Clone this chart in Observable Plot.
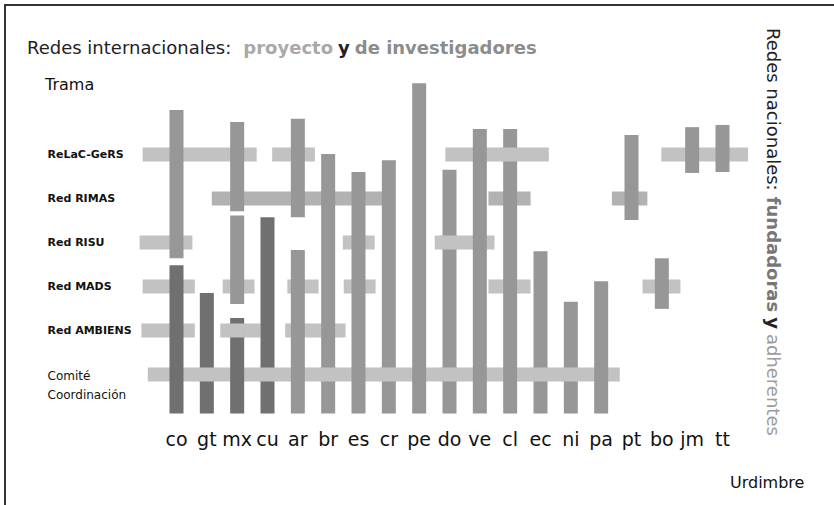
<!DOCTYPE html>
<html><head><meta charset="utf-8">
<script src="https://cdn.jsdelivr.net/npm/d3@7"></script>
<script src="https://cdn.jsdelivr.net/npm/@observablehq/plot@0.6"></script>
<style>html,body{margin:0;padding:0;background:#fff}</style>
</head><body><div id="chart"></div>
<script>
// Warp (urdimbre): countries, in order
const countries = ["co","gt","mx","cu","ar","br","es","cr","pe","do","ve","cl","ec","ni","pa","pt","bo","jm","tt"];

// Weft (trama): networks, bottom to top
const networks = ["Comité Coordinación","Red AMBIENS","Red MADS","Red RISU","Red RIMAS","ReLaC-GeRS"];
const networkLevel = [1, 2, 3, 4, 5, 6];
const networkKind = ["proyecto","proyecto","proyecto","proyecto","investigadores","proyecto"];
const networkLabel = ["Comité\nCoordinación","Red AMBIENS","Red MADS","Red RISU","Red RIMAS","ReLaC-GeRS"];

// Weft segments (in column units)
const weftNet  = ["ReLaC-GeRS","ReLaC-GeRS","ReLaC-GeRS","ReLaC-GeRS",
                  "Red RIMAS","Red RIMAS","Red RIMAS",
                  "Red RISU","Red RISU","Red RISU",
                  "Red MADS","Red MADS","Red MADS","Red MADS","Red MADS","Red MADS",
                  "Red AMBIENS","Red AMBIENS","Red AMBIENS",
                  "Comité Coordinación"];
const weftFrom = [-1.1, 3.17, 8.88, 16.0,  1.18, 10.3, 14.37,  -1.2, 5.5, 8.53,  -1.1, 1.54, 3.67, 5.53, 10.3, 15.38,  -1.14, 1.46, 3.6,  -0.93];
const weftTo   = [2.66, 4.58, 12.29, 18.86, 6.8, 11.69, 15.54,  0.54, 6.55, 10.5,  0.62, 2.59, 4.70, 6.58, 11.69, 16.63,  0.62, 2.79, 5.59,  14.63];

// Warp segments (in row units)
const warpCountry = ["co","co","gt","mx","mx","mx","cu","ar","ar","br","es","cr","pe","do","ve","cl","ec","ni","pa","pt","bo","jm","tt"];
const warpTop     = [7.0, 3.47, 2.84, 6.73, 4.60, 2.27, 4.56, 6.8, 3.82, 6.0, 5.59, 5.86, 7.61, 5.64, 6.57, 6.57, 3.79, 2.64, 3.11, 6.43, 3.63, 6.61, 6.66];
const warpBottom  = [3.63, 0.1, 0.1, 4.70, 2.59, 0.1, 0.1, 4.56, 0.1, 0.1, 0.1, 0.1, 0.1, 0.1, 0.1, 0.1, 0.1, 0.1, 0.1, 4.5, 2.48, 5.57, 5.59];
const warpKind    = ["adherente","fundadora","fundadora","adherente","adherente","fundadora","fundadora",
                     "adherente","adherente","adherente","adherente","adherente","adherente","adherente",
                     "adherente","adherente","adherente","adherente","adherente","adherente","adherente","adherente","adherente"];

// Crossings where the weft passes over the warp
const overNet     = ["Comité Coordinación","Comité Coordinación","Comité Coordinación","Comité Coordinación","Comité Coordinación","Comité Coordinación","Comité Coordinación","Red AMBIENS","ReLaC-GeRS","Red RISU"];
const overCountry = ["gt","cu","br","cr","do","ec","ni","mx","cl","do"];

// Texts
const titleParts = ["Redes internacionales:", "proyecto", "y", "de investigadores"];
const sideParts = ["Redes nacionales:", "fundadoras", "y", "adherentes"];
const weftTitle = "Trama";
const warpTitle = "Urdimbre";

const kinds = ["proyecto","investigadores","adherente","fundadora"];
const kindColors = ["#c2c2c2","#b2b2b2","#979797","#707070"];

const net = n => networks.indexOf(n);
const weft = weftNet.map((n, i) => ({level: networkLevel[net(n)], kind: networkKind[net(n)], x1: weftFrom[i], x2: weftTo[i]}));
const warp = warpCountry.map((c, i) => ({x: countries.indexOf(c), y1: warpBottom[i], y2: warpTop[i], kind: warpKind[i]}));
const over = overNet.map((n, i) => ({level: networkLevel[net(n)], kind: networkKind[net(n)], x: countries.indexOf(overCountry[i])}));
const rows = networks.map((n, i) => ({level: networkLevel[i], label: networkLabel[i], multi: networkLabel[i].includes("\n")}));

const half = 0.27;

const plot = Plot.plot({
  width: 834, height: 505,
  marginLeft: 47, marginRight: 30, marginTop: 20, marginBottom: 80,
  style: {fontFamily: "'DejaVu Sans', sans-serif", background: "#fff", color: "#111"},
  x: {domain: [0, countries.length - 1], range: [176, 722]},
  y: {domain: [0, 7], range: [418, 110], axis: null},
  color: {domain: kinds, range: kindColors},
  marks: [
    Plot.ruleY(weft, {y: "level", x1: "x1", x2: "x2", stroke: "kind", strokeWidth: 14}),
    Plot.ruleX(warp, {x: "x", y1: "y1", y2: "y2", stroke: "kind", strokeWidth: 14}),
    Plot.ruleY(over, {y: "level", x1: d => d.x - half, x2: d => d.x + half, stroke: "kind", strokeWidth: 14}),
    Plot.axisX(d3.range(countries.length), {tickFormat: i => countries[i], tickSize: 0, tickPadding: 7, fontSize: 19, label: null, fill: "#111"}),
    Plot.text(rows.filter(d => !d.multi), {y: "level", text: "label", frameAnchor: "left", textAnchor: "start", fontSize: 11, fontWeight: "bold", fill: "#111"}),
    Plot.text(rows.filter(d => d.multi), {y: "level", text: "label", frameAnchor: "left", textAnchor: "start", lineAnchor: "top", dy: -9, lineHeight: 1.65, fontSize: 12, fill: "#111"})
  ]
});

document.getElementById("chart").appendChild(plot);
const svg = d3.select(plot);

svg.append("path").attr("d", "M5,505V5H834").attr("fill", "none").attr("stroke", "#333").attr("stroke-width", 2);

const t = svg.append("text").attr("x", 27).attr("y", 54).attr("font-size", 18).attr("fill", "#222").attr("text-anchor", "start");
t.append("tspan").text(titleParts[0]);
t.append("tspan").attr("dx", 12).attr("font-weight", "bold").attr("fill", "#a9a9a9").text(titleParts[1]);
t.append("tspan").attr("dx", 5).attr("font-weight", "bold").attr("fill", "#222").text(titleParts[2]);
t.append("tspan").attr("dx", 5).attr("font-weight", "bold").attr("fill", "#8c8c8c").text(titleParts[3]);

const s = svg.append("text").attr("transform", "translate(767,28) rotate(90)").attr("font-size", 18).attr("fill", "#222").attr("text-anchor", "start");
s.append("tspan").text(sideParts[0]);
s.append("tspan").attr("dx", 6).attr("font-weight", "bold").attr("fill", "#777").text(sideParts[1]);
s.append("tspan").attr("dx", 5).attr("font-weight", "bold").attr("fill", "#222").text(sideParts[2]);
s.append("tspan").attr("dx", 5).attr("fill", "#9c9c9c").text(sideParts[3]);

svg.append("text").attr("x", 45).attr("y", 90).attr("font-size", 16).attr("fill", "#111").attr("text-anchor", "start").text(weftTitle);
svg.append("text").attr("x", 730).attr("y", 488).attr("font-size", 16).attr("fill", "#111").attr("text-anchor", "start").text(warpTitle);
</script>
</body></html>
